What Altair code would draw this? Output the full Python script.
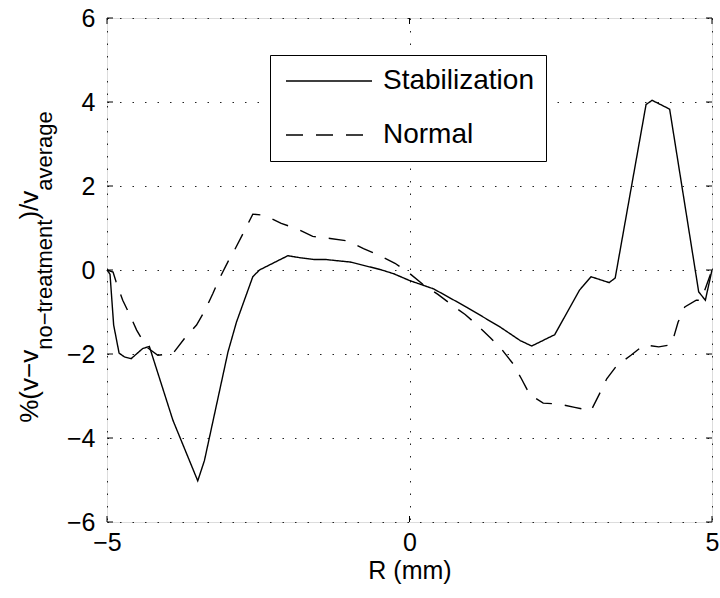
import altair as alt
import pandas as pd

# ---------------- data ----------------
stab_r = [-5.0, -4.95, -4.89, -4.80, -4.71, -4.60, -4.41, -4.30, -3.91, -3.50,
          -3.39, -3.00, -2.86, -2.59, -2.48, -2.26, -2.01, -1.80, -1.58, -1.39,
          -0.98, -0.48, -0.26, 0.0, 0.40, 0.95, 1.50, 1.83, 2.02, 2.40,
          2.81, 3.00, 3.30, 3.40, 3.91, 4.01, 4.30, 4.78, 4.89, 5.0]
stab_v = [0.0, -0.10, -1.31, -1.98, -2.07, -2.11, -1.87, -1.82, -3.58, -5.02,
          -4.54, -1.95, -1.24, -0.16, 0.0, 0.16, 0.34, 0.29, 0.25, 0.25,
          0.19, 0.01, -0.09, -0.25, -0.45, -0.89, -1.36, -1.68, -1.81, -1.54,
          -0.48, -0.16, -0.30, -0.19, 3.94, 4.04, 3.83, -0.52, -0.72, 0.0]

norm_r = [-5.0, -4.90, -4.85, -4.74, -4.62, -4.51, -4.35, -4.16, -3.91, -3.72,
          -3.52, -3.38, -3.25, -3.14, -3.00, -2.89, -2.75, -2.59, -2.39, -2.12,
          -1.84, -1.60, -1.31, -1.01, -0.76, -0.49, -0.24, 0.0, 0.22, 0.47,
          0.68, 0.92, 1.12, 1.34, 1.53, 1.71, 1.85, 1.99, 2.21, 2.47,
          2.73, 3.00, 3.14, 3.26, 3.43, 3.66, 3.88, 4.12, 4.33, 4.44,
          4.55, 4.74, 4.82, 5.0]
norm_v = [0.0, -0.05, -0.28, -0.72, -1.08, -1.43, -1.83, -2.03, -1.99, -1.63,
          -1.31, -0.96, -0.56, -0.20, 0.20, 0.48, 0.87, 1.33, 1.30, 1.11,
          0.97, 0.80, 0.75, 0.69, 0.51, 0.34, 0.16, -0.08, -0.34, -0.58,
          -0.81, -1.06, -1.31, -1.62, -1.90, -2.23, -2.59, -2.97, -3.17, -3.19,
          -3.27, -3.35, -2.95, -2.59, -2.27, -2.03, -1.78, -1.83, -1.78, -1.24,
          -0.88, -0.72, -0.72, 0.0]

series_names = ["Stabilization", "Normal"]
x_ticks = [-5, 0, 5]
y_ticks = [-6, -4, -2, 0, 2, 4, 6]

# ---------------- layout ----------------
W, H = 605, 504
FONT = "Liberation Sans"
FS = 25

df = pd.concat([
    pd.DataFrame({"R": stab_r, "v": stab_v, "series": series_names[0],
                  "order": list(range(len(stab_r)))}),
    pd.DataFrame({"R": norm_r, "v": norm_v, "series": series_names[1],
                  "order": list(range(len(norm_r)))}),
])

xs = alt.Scale(domain=[-5, 5], nice=False, zero=False)
ys = alt.Scale(domain=[-6, 6], nice=False, zero=False)

grid_common = dict(grid=True, gridDash=[1.5, 11], gridColor="#222", gridWidth=1,
                   ticks=False, domain=False, labelFont=FONT, labelFontSize=FS,
                   labelColor="black", labelFlush=False)
x_axis = alt.Axis(values=x_ticks, labelPadding=8,
                  title="R (mm)", titleFont=FONT, titleFontSize=FS,
                  titleFontWeight="normal", titleColor="black",
                  titlePadding=3, **grid_common)
y_axis = alt.Axis(values=y_ticks, labelPadding=12, title=None, **grid_common)

lines = alt.Chart(df).mark_line(color="black", strokeWidth=1.4).encode(
    x=alt.X("R:Q", scale=xs, axis=x_axis),
    y=alt.Y("v:Q", scale=ys, axis=y_axis),
    strokeDash=alt.StrokeDash(
        "series:N",
        scale=alt.Scale(domain=series_names, range=[[1, 0], [17, 13]]),
        legend=alt.Legend(title=None, orient="none", legendX=163, legendY=37,
                          symbolType="M-5,0H38", symbolSize=16,
                          symbolStrokeWidth=1.4, symbolStrokeColor="black",
                          labelFont=FONT, labelFontSize=28, labelColor="black",
                          labelLimit=400, labelOffset=73,
                          labelExpr="datum.label + '\u2003'",
                          strokeColor="black", fillColor="white",
                          padding=12, rowPadding=26)),
    order="order:Q",
)

tx = pd.DataFrame({"t": x_ticks})
ty = pd.DataFrame({"t": y_ticks})
tick_style = dict(color="black", strokeWidth=1)
xt_bottom = alt.Chart(tx).mark_rule(**tick_style).encode(
    x=alt.X("t:Q", scale=xs, axis=x_axis), y=alt.value(H), y2=alt.value(H - 6))
xt_top = alt.Chart(tx).mark_rule(**tick_style).encode(
    x=alt.X("t:Q", scale=xs, axis=x_axis), y=alt.value(0), y2=alt.value(6))
yt_left = alt.Chart(ty).mark_rule(**tick_style).encode(
    y=alt.Y("t:Q", scale=ys, axis=y_axis), x=alt.value(0), x2=alt.value(6))
yt_right = alt.Chart(ty).mark_rule(**tick_style).encode(
    y=alt.Y("t:Q", scale=ys, axis=y_axis), x=alt.value(W), x2=alt.value(W - 6))

# ---------------- y-axis title with subscripts ----------------
widths = {"%": 889, "(": 333, ")": 333, "v": 500, "\u2212": 584, "/": 278,
          "n": 556, "o": 556, "t": 278, "r": 333, "e": 556, "a": 556,
          "m": 833, "g": 556}
MAIN, SUB = 26, 22
pieces = [("%(v\u2212v", MAIN, 0), ("no\u2212treatment", SUB, 14),
          (")/v", MAIN, 0), ("average", SUB, 14)]
lens = [sum(widths[c] for c in s) / 1000 * fs for s, fs, _ in pieces]
total = sum(lens)
center_y = 267 - 18
start = center_y + total / 2
BASE_X = 38 - 107
title_layers = []
pos = start
one = pd.DataFrame({"a": [0]})
for (s, fs, dx), ln in zip(pieces, lens):
    title_layers.append(
        alt.Chart(one).mark_text(text=s, angle=270, align="left",
                                 baseline="alphabetic", font=FONT, fontSize=fs,
                                 color="black").encode(
            x=alt.value(BASE_X + dx), y=alt.value(pos)))
    pos -= ln

chart = alt.layer(lines, xt_bottom, xt_top, yt_left, yt_right, *title_layers).properties(
    width=W, height=H,
    autosize=alt.AutoSizeParams(type="none"),
    padding={"left": 107, "top": 18, "right": 8, "bottom": 76},
).configure_view(stroke="black", strokeWidth=1.3).configure(background="white")

chart.save("out.html", embed_options={"renderer": "svg", "actions": False})
